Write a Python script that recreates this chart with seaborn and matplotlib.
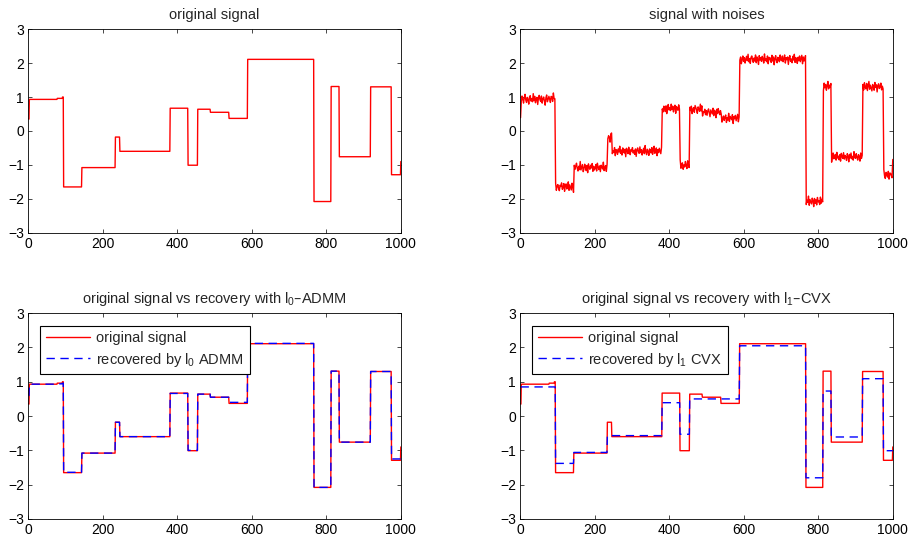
import numpy as np
import pandas as pd
import matplotlib
matplotlib.use('Agg')
import matplotlib.pyplot as plt
import seaborn as sns

# piecewise-constant signal: segment start sample (1-based) and level
seg_start = [1, 3, 78, 92, 95, 144, 234, 246, 381, 429, 455, 489, 539, 589, 767, 813, 835, 919, 975, 1000]
orig_vals = [0.35, 0.93, 0.96, 1.00, -1.65, -1.08, -0.18, -0.60, 0.67, -1.01, 0.64, 0.55, 0.37, 2.11,
             -2.08, 1.31, -0.76, 1.30, -1.29, -0.90]
l0_vals = [0.60, 0.93, 0.94, 0.96, -1.64, -1.08, -0.18, -0.60, 0.66, -1.00, 0.64, 0.55, 0.40, 2.12,
           -2.08, 1.31, -0.76, 1.30, -1.25, -1.25]
l1_vals = [0.85, 0.85, 0.85, 0.85, -1.38, -1.06, -0.57, -0.57, 0.39, -0.53, 0.50, 0.50, 0.50, 2.05,
           -1.80, 0.73, -0.61, 1.09, -1.01, -1.01]

# noise seen on the noisy signal, in hundredths, one value every 2 samples
noise_txt = """
4 -6 10 1 -11 5 15 -2 -9 6 0 -14 7 11 -5 2 -7 17 -4 9 -10 1 6 -15 4 12 -1 -6 10 -11 2 7 -4 -17 5 13 -7 0 9 -2 -12 6 4 -9 16 -1 -5 11 -10 2
7 -4 -11 5 1 12 -7 -2 10 -13 4 9 -6 0 15 -10 6 -1 -9 11 2 -16 7 -5 5 13 -2 -10 4 -6 18 -7 1 9 -12 -4 10 2 -9 6 -15 11 0 -5 7 -1 12 -11 4 -7
-2 9 -10 13 1 -6 5 -12 7 2 -4 16 -9 0 6 -11 10 -5 4 -1 -15 9 12 -7 2 -4 11 -13 5 1 -9 7 -2 15 -6 4 -11 10 0 -5 6 -16 9 2 -7 12 -1 -10 5 1
11 -5 2 -9 7 -15 4 10 -1 -6 13 -4 5 -11 1 9 -7 17 -2 -10 6 0 -12 7 4 -5 11 -9 2 15 -6 -1 10 -13 5 -4 9 1 -7 12 -2 -11 6 4 -10 7 -16 2 11 -5
1 -7 12 -4 6 -11 2 9 -15 5 0 -6 10 -2 16 -9 4 7 -12 1 -5 11 -1 -10 13 2 -7 6 -4 9 -13 0 5 -9 11 4 -2 -12 7 1 -6 15 -5 10 -11 2 -1 9 -7 5
-9 4 10 -2 -13 7 1 -5 12 -10 6 2 -16 9 -4 11 0 -7 5 13 -11 -1 7 -6 4 10 -12 2 -5 15 -9 6 1 -4 11 -15 5 -1 9 -7 2 12 -10 4 -2 7 -13 0 10 -6
5 -11 1 9 -4 15 -7 2 -12 6 10 -1 -9 4 -5 13 -10 7 0 -15 11 -2 5 -6 9 1 -11 16 -4 2 -7 10 -13 6 -1 4 -9 12 -5 7 -16 2 11 -4 -10 6 1 -7 13 -2
-4 10 -7 2 13 -11 5 -1 7 -15 4 11 -6 1 -10 9 -2 15 -9 5 0 -12 6 -4 10 -7 2 12 -13 7 -5 1 11 -9 4 -2 16 -11 6 -1 -7 10 2 -15 9 -5 5 -10 12 -1
2 -9 13 -5 7 -1 -12 10 -4 6 -11 1 15 -7 4 -2 9 -16 5 11 -6 0 7 -10 13 -4 2 -9 6 -13 10 1 -5 12 -7 4 -1 -11 9 2 -15 7 -4 11 -6 1 -10 15 -2 -5
9 -2 -10 6 1 -13 11 -5 4 7 -9 12 -1 -6 10 -11 2 16 -7 5 -4 -12 7 1 -10 13 -2 6 -15 4 9 -5 0 11 -9 2 -6 15 -4 -11 7 1 -7 10 -13 5 4 -2 -9 6
"""
noise = np.array(noise_txt.split(), dtype=float) / 100.0

seg_len = np.diff(seg_start + [1001])
n = np.arange(1, 1001)
orig = np.repeat(orig_vals, seg_len)
rec_l0 = np.repeat(l0_vals, seg_len)
rec_l1 = np.repeat(l1_vals, seg_len)

noisy_n = np.linspace(1, 1000, len(noise))
noisy = orig[np.round(noisy_n).astype(int) - 1] + noise

sns.set_style('ticks')
plt.rcParams['font.family'] = ['Liberation Sans', 'DejaVu Sans']
plt.rcParams['font.size'] = 10.5
plt.rcParams['xtick.direction'] = 'in'
plt.rcParams['ytick.direction'] = 'in'
plt.rcParams['xtick.top'] = True
plt.rcParams['ytick.right'] = True
plt.rcParams['mathtext.default'] = 'regular'

fig = plt.figure(figsize=(9.11, 5.40), dpi=100)
boxes = [[0.031, 0.569, 0.409, 0.377], [0.571, 0.569, 0.409, 0.377],
         [0.031, 0.039, 0.409, 0.381], [0.571, 0.039, 0.409, 0.381]]
axes = [fig.add_axes(b) for b in boxes]

red = dict(color='red', linewidth=1.0, estimator=None)
blue = dict(color='blue', linewidth=1.0, estimator=None)
dash = (0, (6, 4))

sns.lineplot(x=n, y=orig, ax=axes[0], **red)
axes[0].set_title('original signal', fontsize=10.5, pad=7)

sns.lineplot(x=noisy_n, y=noisy, ax=axes[1], **red)
axes[1].set_title('signal with noises', fontsize=10.5, pad=7)

recs = [(rec_l0, r'original signal vs recovery with l$_0$–ADMM', r'recovered by l$_0$ ADMM'),
        (rec_l1, r'original signal vs recovery with l$_1$–CVX', r'recovered by l$_1$ CVX')]
for ax, (rec, title, lab) in zip(axes[2:], recs):
    sns.lineplot(x=n, y=orig, ax=ax, label='original signal', **red)
    sns.lineplot(x=n, y=rec, ax=ax, label=lab, **blue)
    ax.lines[-1].set_linestyle(dash)
    ax.set_title(title, fontsize=10.5, pad=7)
    leg = ax.legend(loc='upper left', bbox_to_anchor=(0.012, 0.975), fancybox=False,
                    framealpha=1, edgecolor='black', handlelength=3.0, handletextpad=0.45,
                    borderpad=0.4, labelspacing=0.35, fontsize=10.5)
    leg.get_frame().set_linewidth(0.8)
    leg.legend_handles[1].set_linestyle(dash)

for ax in axes:
    ax.set_xlim(0, 1000)
    ax.set_ylim(-3, 3)
    ax.set_xticks(range(0, 1001, 200))
    ax.set_yticks(range(-3, 4))
    ax.set_xlabel('')
    ax.set_ylabel('')
    ax.tick_params(length=3, width=0.5, labelsize=10, pad=3, colors='black')
    for s in ax.spines.values():
        s.set_linewidth(0.6)
        s.set_color('black')

fig.savefig('out.png', dpi=100)
